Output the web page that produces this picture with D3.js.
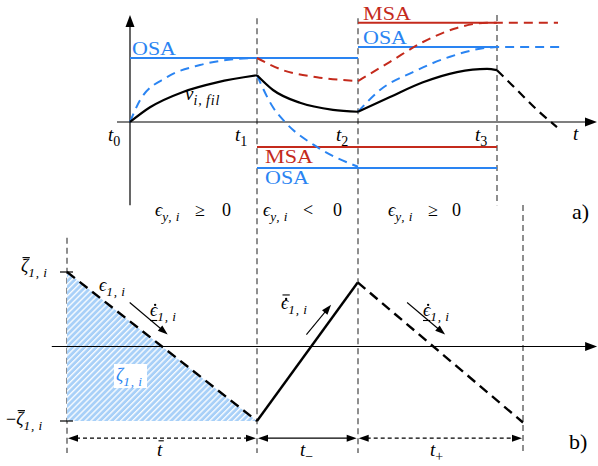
<!DOCTYPE html>
<meta charset="utf-8">
<style>
body { margin: 0; background: #fff; }
text { font-family: "Liberation Serif", "DejaVu Serif", serif; }
</style>
<body>
<script src="https://cdn.jsdelivr.net/npm/d3@7"></script>
<script>

// ---- panel a): switching instants, limits and responses
var switchTimes = [0, 1.27, 2.28, 3.67];
var switchNames = ["0", "1", "2", "3"];
// horizontal limits: [from, to, level]
var osaLimits = [[0, 2.28, 1.0], [1.27, 3.67, -0.72], [2.28, 3.67, 1.17]];
var msaLimits = [[1.27, 3.67, -0.39], [2.28, 3.67, 1.55]];
// filtered signal nu_{i,fil}, one piece per interval
var nuFil = [
    [[0, 0], [0.2, 0.23], [0.53, 0.47], [0.87, 0.62], [1.27, 0.73]],
    [[1.27, 0.73], [1.43, 0.5], [1.7, 0.3], [2.03, 0.19], [2.28, 0.16]],
    [[2.28, 0.16], [2.6, 0.39], [2.93, 0.62], [3.27, 0.78], [3.57, 0.83], [3.67, 0.81]]
];
var nuFilTail = [[3.67, 0.81], [3.87, 0.5], [4.07, 0.19], [4.27, -0.08]];
var osaResponse = [
    [[0, 0], [0.1, 0.34], [0.37, 0.7], [0.7, 0.89], [1.03, 0.98], [1.27, 1.0]],
    [[1.27, 0.73], [1.43, 0.23], [1.55, 0], [1.87, -0.39], [2.28, -0.7]],
    [[2.28, 0.16], [2.5, 0.5], [2.83, 0.78], [3.2, 1.02], [3.57, 1.16], [3.67, 1.17], [4.32, 1.17]]
];
var msaResponse = [
    [[1.27, 1.0], [1.53, 0.81], [1.87, 0.7], [2.28, 0.64]],
    [[2.28, 0.64], [2.6, 0.94], [2.93, 1.25], [3.27, 1.47], [3.57, 1.55], [3.67, 1.55], [4.28, 1.55]]
];
var regionSigns = ["≥", "<", "≥"];

// ---- panel b): error e_{1,i} inside the band +-zeta
var segTimes = [0, 1, 1.53, 2.4];     // start, t bar, t-, t+
var errFall1 = [[0, 1], [1, -1]];
var errRise = [[1, -1], [1.53, 0.86]];
var errFall2 = [[1.53, 0.86], [2.4, -1.02]];
var band = [[0, 1], [0, -1], [1, -1]];
// slope arrows [t0, v0, t1, v1]
var slopeArrows = [[0.33, 0.59, 0.53, 0.16], [1.26, 0.16, 1.39, 0.56], [1.79, 0.59, 1.99, 0.16]];

var BLUE = "#2a84f2", RED = "#c42a1c", LIGHT = "#a8d0f8", GREY = "#444";

var svg = d3.select("body").append("svg")
    .attr("width", 598)
    .attr("height", 466)
    .attr("font-family", "'Liberation Serif', 'DejaVu Serif', serif");

var xTop = d3.scaleLinear().domain([0, 1]).range([130, 230]);
var yTop = d3.scaleLinear().domain([0, 1]).range([122, 58]);
var xBot = d3.scaleLinear().domain([0, 1]).range([67, 257]);
var yBot = d3.scaleLinear().domain([-1, 1]).range([421, 272]);

var lineTop = d3.line()
    .x(function(d) { return xTop(d[0]); })
    .y(function(d) { return yTop(d[1]); })
    .curve(d3.curveMonotoneX);
var lineBot = d3.line()
    .x(function(d) { return xBot(d[0]); })
    .y(function(d) { return yBot(d[1]); });

// filled arrow head at (x2,y2) pointing along (x1,y1)->(x2,y2)
function head(g, x1, y1, x2, y2, len, wid) {
    var a = Math.atan2(y2 - y1, x2 - x1), c = Math.cos(a), s = Math.sin(a);
    var bx = x2 - len * c, by = y2 - len * s;
    g.append("path")
        .attr("d", "M" + x2 + "," + y2 +
            "L" + (bx - wid / 2 * s) + "," + (by + wid / 2 * c) +
            "L" + (bx + wid / 2 * s) + "," + (by - wid / 2 * c) + "Z")
        .attr("fill", "#000");
}

function arrow(g, x1, y1, x2, y2, len, wid, sw) {
    var a = Math.atan2(y2 - y1, x2 - x1);
    g.append("line")
        .attr("x1", x1).attr("y1", y1)
        .attr("x2", x2 - (len - 1) * Math.cos(a)).attr("y2", y2 - (len - 1) * Math.sin(a))
        .attr("stroke", "#000").attr("stroke-width", sw);
    head(g, x1, y1, x2, y2, len, wid);
}

// small math typesetting: italic letters, subscripts, bars, dots, underlines
function mathLabel(g, x, y, parts, size, color) {
    color = color || "#000";
    var t = g.append("text").attr("x", x).attr("y", y)
        .attr("font-size", size).attr("fill", color);
    var shift = 0, idx = 0, marks = [];
    parts.forEach(function(p) {
        var drop = p.sub ? Math.round(size * 0.25) : 0;
        var ts = t.append("tspan")
            .attr("font-size", p.sub ? size * 0.74 : size)
            .attr("font-style", p.rm ? "normal" : "italic")
            .attr("dy", drop - shift)
            .text(p.s);
        if (p.sub) ts.attr("letter-spacing", 0.8);
        if (p.x != null) ts.attr("x", p.x);
        if (p.dx) ts.attr("dx", p.dx);
        shift = drop;
        if (p.bar || p.dot || p.ul) marks.push({i: idx, p: p});
        idx += p.s.length;
    });
    marks.forEach(function(m) {
        var e = t.node().getExtentOfChar(m.i);
        var sk = m.p.skew == null ? 1.5 : m.p.skew;
        if (m.p.dot) {
            g.append("circle")
                .attr("cx", e.x + e.width / 2 + sk)
                .attr("cy", y - m.p.dot * size)
                .attr("r", size * 0.065).attr("fill", color);
        }
        if (m.p.bar) {
            g.append("line")
                .attr("x1", e.x + sk).attr("x2", e.x + e.width + sk)
                .attr("y1", y - m.p.bar * size).attr("y2", y - m.p.bar * size)
                .attr("stroke", color).attr("stroke-width", 1.1);
        }
        if (m.p.ul) {
            g.append("line")
                .attr("x1", e.x).attr("x2", e.x + e.width)
                .attr("y1", y + m.p.ul * size).attr("y2", y + m.p.ul * size)
                .attr("stroke", color).attr("stroke-width", 1.1);
        }
    });
}

var defs = svg.append("defs");
var hatch = defs.append("pattern")
    .attr("id", "hatch")
    .attr("patternUnits", "userSpaceOnUse")
    .attr("width", 4.2).attr("height", 10)
    .attr("patternTransform", "rotate(45)");
hatch.append("rect").attr("width", 4.2).attr("height", 10).attr("fill", LIGHT);
hatch.append("line").attr("x1", 0.7).attr("x2", 0.7).attr("y1", 0).attr("y2", 10)
    .attr("stroke", "#fff").attr("stroke-width", 1.3);

// ===== vertical dashed separators =====
var vg = svg.append("g")
    .attr("stroke", GREY).attr("stroke-width", 1.2).attr("stroke-dasharray", "6,4");
[1, 2].forEach(function(k) {
    vg.append("line")
        .attr("x1", xTop(switchTimes[k])).attr("x2", xTop(switchTimes[k]))
        .attr("y1", yTop(1.62)).attr("y2", yBot(-1.43));
});
vg.append("line")
    .attr("x1", xTop(switchTimes[3])).attr("x2", xTop(switchTimes[3]))
    .attr("y1", yTop(1.67)).attr("y2", yTop(-1.3));
vg.append("line")
    .attr("x1", xBot(segTimes[0])).attr("x2", xBot(segTimes[0]))
    .attr("y1", yBot(1.46)).attr("y2", yBot(-1.43));
vg.append("line")
    .attr("x1", xBot(segTimes[3])).attr("x2", xBot(segTimes[3]))
    .attr("y1", yBot(1.9)).attr("y2", yBot(-1.43));

// ===== panel a) =====
var panelA = svg.append("g");

arrow(panelA, xTop(0), yTop(-1.3), xTop(0), yTop(1.67), 12, 9, 1.2);
arrow(panelA, xTop(-0.13), yTop(0), xTop(4.67), yTop(0), 12, 9, 1.2);

osaLimits.forEach(function(d) {
    panelA.append("line")
        .attr("x1", xTop(d[0])).attr("x2", xTop(d[1]))
        .attr("y1", yTop(d[2])).attr("y2", yTop(d[2]))
        .attr("stroke", BLUE).attr("stroke-width", 2);
});
msaLimits.forEach(function(d) {
    panelA.append("line")
        .attr("x1", xTop(d[0])).attr("x2", xTop(d[1]))
        .attr("y1", yTop(d[2])).attr("y2", yTop(d[2]))
        .attr("stroke", RED).attr("stroke-width", 2);
});

osaResponse.forEach(function(seg) {
    panelA.append("path").attr("d", lineTop(seg))
        .attr("fill", "none").attr("stroke", BLUE).attr("stroke-width", 2)
        .attr("stroke-dasharray", "9,6");
});
msaResponse.forEach(function(seg) {
    panelA.append("path").attr("d", lineTop(seg))
        .attr("fill", "none").attr("stroke", RED).attr("stroke-width", 2)
        .attr("stroke-dasharray", "9,6");
});
nuFil.forEach(function(seg) {
    panelA.append("path").attr("d", lineTop(seg))
        .attr("fill", "none").attr("stroke", "#000").attr("stroke-width", 2.2);
});
panelA.append("path").attr("d", lineTop(nuFilTail))
    .attr("fill", "none").attr("stroke", "#000").attr("stroke-width", 2.2)
    .attr("stroke-dasharray", "9,6");

// limit labels
function limitLabel(x, y, s, color, w) {
    panelA.append("text").attr("x", x).attr("y", y)
        .attr("font-size", 19).attr("fill", color)
        .attr("textLength", w).attr("lengthAdjust", "spacingAndGlyphs")
        .text(s);
}
limitLabel(xTop(0) + 2, yTop(osaLimits[0][2]) - 3, "OSA", BLUE, 44);
limitLabel(xTop(switchTimes[1]) + 8, yTop(msaLimits[0][2]) + 16, "MSA", RED, 48);
limitLabel(xTop(switchTimes[1]) + 8, yTop(osaLimits[1][2]) + 16, "OSA", BLUE, 44);
limitLabel(xTop(switchTimes[2]) + 5, yTop(msaLimits[1][2]) - 3, "MSA", RED, 48);
limitLabel(xTop(switchTimes[2]) + 5, yTop(osaLimits[2][2]) - 3, "OSA", BLUE, 44);

switchTimes.forEach(function(t, k) {
    mathLabel(panelA, xTop(t) - 22, 141, [{s: "t"}, {s: switchNames[k], sub: 1, rm: 1}], 19);
});
mathLabel(panelA, 573, 140, [{s: "t"}], 19);
mathLabel(panelA, 185, 100, [{s: "ν"}, {s: "i,\u2009fil", sub: 1}], 19);

// sign regions
var regionX = [[155, 195, 222], [263, 303, 333], [388, 428, 452]];
regionSigns.forEach(function(sg, k) {
    mathLabel(panelA, regionX[k][0], 216, [
        {s: "ϵ"}, {s: "y,\u2009i", sub: 1},
        {s: sg, rm: 1, x: regionX[k][1]}, {s: "0", rm: 1, x: regionX[k][2]}
    ], 18);
});
panelA.append("text").attr("x", 572).attr("y", 219).attr("font-size", 22).text("a)");

// ===== panel b) =====
var panelB = svg.append("g");

panelB.append("path").attr("d", lineBot(band) + "Z").attr("fill", "url(#hatch)");

arrow(panelB, xBot(-0.08), yBot(0), xBot(2.79), yBot(0), 12, 9, 1.2);

// band ticks
[1, -1].forEach(function(v) {
    panelB.append("line")
        .attr("x1", xBot(0) - 7).attr("x2", xBot(0) + 6)
        .attr("y1", yBot(v)).attr("y2", yBot(v))
        .attr("stroke", "#000").attr("stroke-width", 1.2);
});

panelB.append("path").attr("d", lineBot(errFall1))
    .attr("fill", "none").attr("stroke", "#000").attr("stroke-width", 2.4)
    .attr("stroke-dasharray", "10,6");
panelB.append("path").attr("d", lineBot(errRise))
    .attr("fill", "none").attr("stroke", "#000").attr("stroke-width", 2.4);
panelB.append("path").attr("d", lineBot(errFall2))
    .attr("fill", "none").attr("stroke", "#000").attr("stroke-width", 2.4)
    .attr("stroke-dasharray", "10,6");

slopeArrows.forEach(function(a) {
    arrow(panelB, xBot(a[0]), yBot(a[1]), xBot(a[2]), yBot(a[3]), 10, 7, 1.1);
});

// time spans
var spanY = yBot(-1.23);
[[0, 1, "4,3"], [1, 2, null], [2, 3, "4,3"]].forEach(function(s) {
    var x1 = xBot(segTimes[s[0]]), x2 = xBot(segTimes[s[1]]);
    var l = panelB.append("line")
        .attr("x1", x1 + 9).attr("x2", x2 - 9)
        .attr("y1", spanY).attr("y2", spanY)
        .attr("stroke", "#000").attr("stroke-width", 1.2);
    if (s[2]) l.attr("stroke-dasharray", s[2]);
    head(panelB, x2, spanY, x1 + 1, spanY, 10, 7);
    head(panelB, x1, spanY, x2 - 1, spanY, 10, 7);
});

mathLabel(panelB, 21, 272, [{s: "ζ", bar: 0.8}, {s: "1,\u2009i", sub: 1}], 18);
mathLabel(panelB, 6, 425, [{s: "−", rm: 1}, {s: "ζ", bar: 0.8}, {s: "1,\u2009i", sub: 1}], 18);

panelB.append("rect").attr("x", 114).attr("y", 364).attr("width", 33).attr("height", 24)
    .attr("fill", "#fff");
mathLabel(panelB, 116, 381, [{s: "ζ"}, {s: "1,\u2009i", sub: 1}], 18, BLUE);

mathLabel(panelB, 99, 291, [{s: "ϵ"}, {s: "1,\u2009i", sub: 1}], 18);
mathLabel(panelB, 150, 316, [{s: "ϵ", dot: 0.62, ul: 0.25}, {s: "1,\u2009i", sub: 1}], 18);
mathLabel(panelB, 281, 309, [{s: "ϵ", dot: 0.56, bar: 0.78}, {s: "1,\u2009i", sub: 1}], 18);
mathLabel(panelB, 423, 316, [{s: "ϵ", dot: 0.62, ul: 0.25}, {s: "1,\u2009i", sub: 1}], 18);

mathLabel(panelB, 157, 456, [{s: "t", bar: 0.8}], 19);
mathLabel(panelB, 300, 456, [{s: "t"}, {s: "−", sub: 1, rm: 1}], 19);
mathLabel(panelB, 430, 456, [{s: "t"}, {s: "+", sub: 1, rm: 1}], 19);

panelB.append("text").attr("x", 569).attr("y", 449).attr("font-size", 22).text("b)");

</script>
</body>
